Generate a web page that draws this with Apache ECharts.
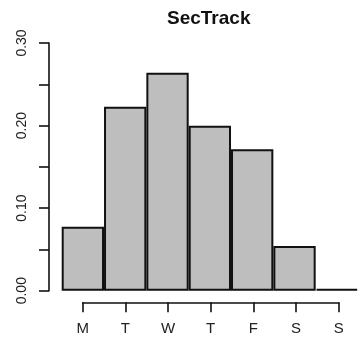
<!DOCTYPE html>
<html>
<head>
<meta charset="utf-8">
<script src="https://cdn.jsdelivr.net/npm/echarts@6/dist/echarts.min.js"></script>
<style>
html,body{margin:0;padding:0;background:#fff;}
#c{width:358px;height:338px;}
</style>
</head>
<body>
<div id="c"></div>
<script>
var titleText = 'SecTrack';
var days = ['M', 'T', 'W', 'T', 'F', 'S', 'S'];
var values = [0.0775, 0.2229, 0.2640, 0.1998, 0.1713, 0.0541, 0.002];
var yTicks = [0, 0.05, 0.10, 0.15, 0.20, 0.25, 0.30];

var FONT = "'Liberation Sans', Arial, Helvetica, sans-serif";
var chart = echarts.init(document.getElementById('c'), null, {renderer: 'canvas'});
chart.setOption({
  animation: false,
  backgroundColor: '#ffffff',
  title: {
    text: titleText,
    left: 167,
    top: 9,
    padding: 0,
    textStyle: {fontFamily: FONT, fontSize: 19, fontWeight: 'bold', color: '#111'}
  },
  grid: [
    {left: 61.7, top: 43, width: 298.6, height: 247.7},
    {left: 82.7, top: 292, width: 256, height: 10.3}
  ],
  xAxis: [
    {
      gridIndex: 0, type: 'category', data: days, boundaryGap: true,
      show: false
    },
    {
      gridIndex: 1, type: 'value', min: 0, max: days.length - 1, interval: 1,
      position: 'bottom',
      axisLine: {show: true, lineStyle: {color: '#111', width: 1.6}},
      axisTick: {show: true, inside: false, length: 10, lineStyle: {color: '#111', width: 1.6}},
      axisLabel: {
        show: true, margin: 19, fontFamily: FONT, fontSize: 15, color: '#222',
        formatter: function (v) { return days[Math.round(v)] || ''; }
      },
      splitLine: {show: false}
    }
  ],
  yAxis: [
    {
      gridIndex: 0, type: 'value', min: yTicks[0], max: yTicks[yTicks.length - 1], interval: 0.05,
      position: 'left', offset: 12.7,
      axisLine: {show: true, lineStyle: {color: '#111', width: 1.6}},
      axisTick: {show: true, inside: false, length: 10, lineStyle: {color: '#111', width: 1.6}},
      axisLabel: {
        show: true, rotate: 90, margin: 20, fontFamily: FONT, fontSize: 14, color: '#222',
        formatter: function (v) {
          var k = Math.round(v * 100);
          return (k % 10 === 0) ? v.toFixed(2) : '';
        }
      },
      splitLine: {show: false}
    },
    {gridIndex: 1, type: 'value', show: false}
  ],
  series: [{
    type: 'bar',
    xAxisIndex: 0, yAxisIndex: 0,
    data: values,
    barCategoryGap: '0%',
    barWidth: '100%',
    itemStyle: {color: '#bebebe', borderColor: '#111', borderWidth: 2}
  }]
});
</script>
</body>
</html>
